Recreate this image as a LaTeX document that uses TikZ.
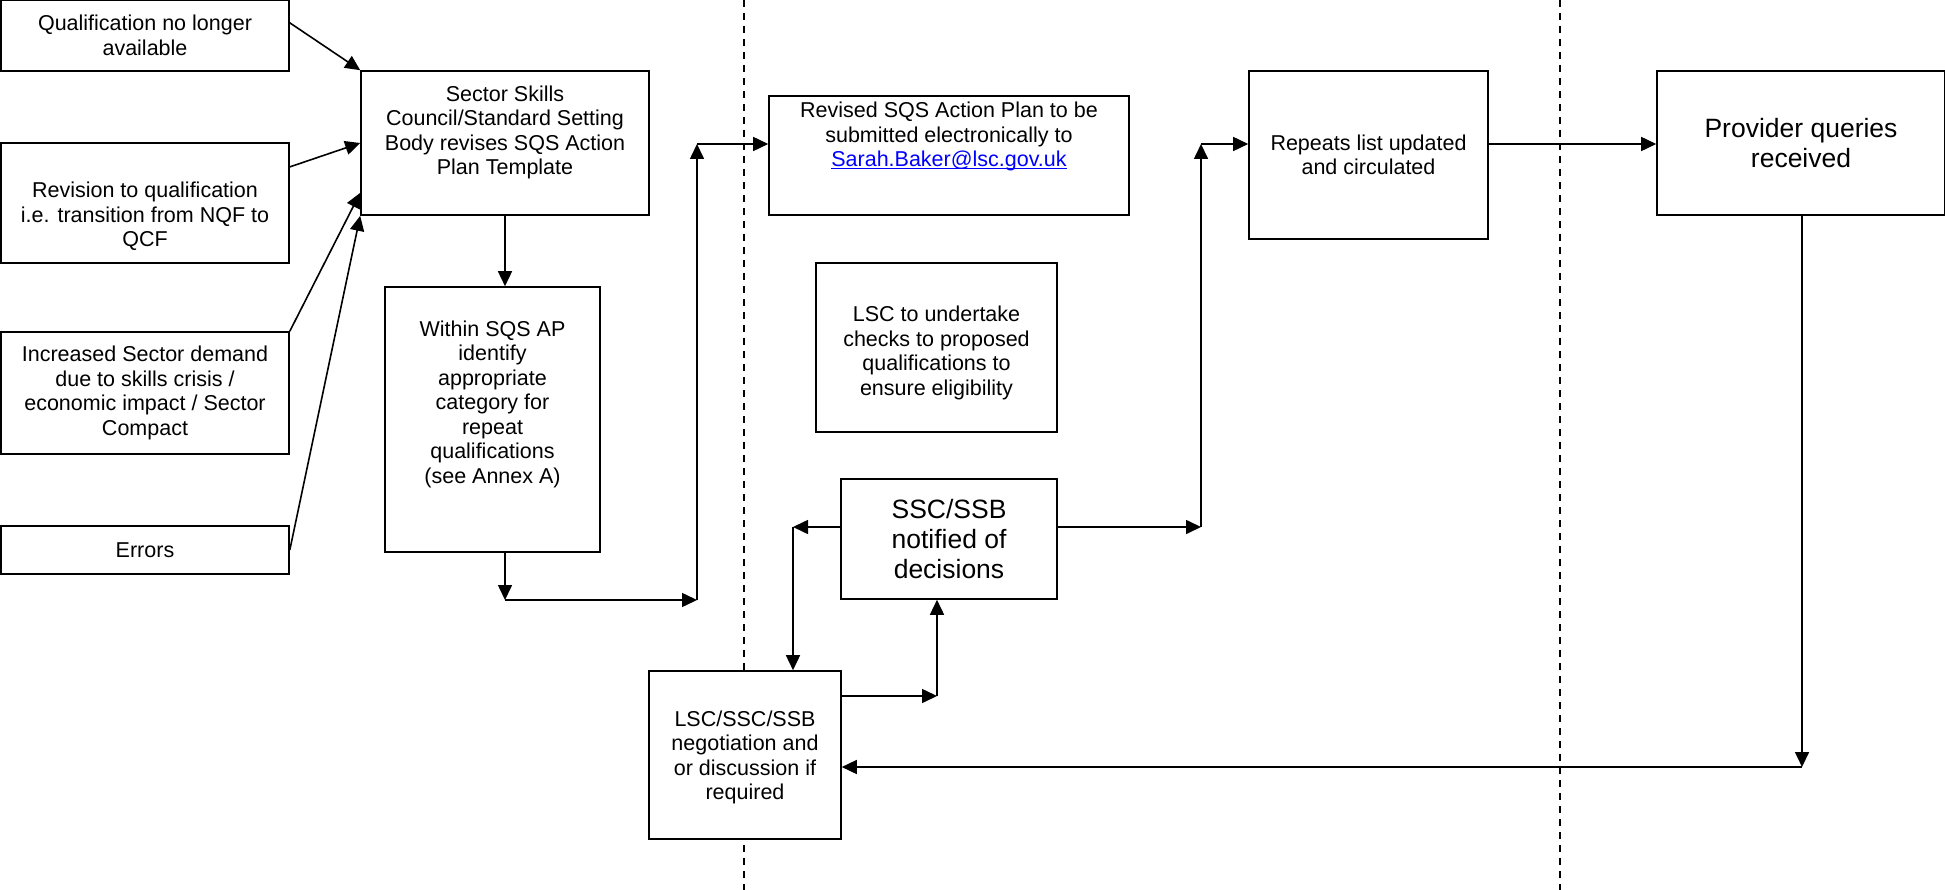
\documentclass[tikz,border=0pt]{standalone}
\usepackage{fontspec}
\setmainfont{Liberation Sans}
\usetikzlibrary{arrows.meta}

\newcommand\mailLink[1]{\textcolor{blue}{\setbox0\hbox{#1}\rlap{\rule[-2.5pt]{\wd0}{1.2pt}}#1}}

\begin{document}
\begin{tikzpicture}
[x=1pt,y=-1pt,%
  boxDecorate/.style={draw,line width=1.6pt,fill=white,inner sep=0pt,align=center,%
    font=\fontsize{21.5}{24.5}\selectfont},%
  bigDecorate/.style={boxDecorate,font=\fontsize{26.5}{30}\selectfont},%
  lineDecorate/.style={line width=1.6pt,-{Triangle[length=15pt,width=14pt]}},%
  laneDecorate/.style={line width=1.4pt,dash pattern=on 7pt off 6pt}]
\useasboundingbox (0,0) rectangle (1945,890);
%% lane separators
\draw[laneDecorate] (744,0) -- (744,890);
\draw[laneDecorate] (1560,0) -- (1560,890);
%% boxes
\foreach \nodename/\x/\y/\w/\h/\txt in {
  q1/145/35.5/288/71/{Qualification no longer\\available},
  revision/145/203/288/120/{\mbox{}\\[18pt]Revision to qualification\\i.e. transition from NQF to\\QCF},
  increased/145/393/288/122/{Increased Sector demand\\due to skills crisis /\\economic impact / Sector\\Compact},
  errors/145/550/288/48/{Errors},
  ssc/505/143/288/144/{Sector Skills\\Council/Standard Setting\\Body revises SQS Action\\Plan Template\\[1.5pt]\mbox{}},
  within/492.5/419.5/215/265/{Within SQS AP\\identify\\appropriate\\category for\\repeat\\qualifications\\(see Annex A)\\[10.5pt]\mbox{}},
  revised/949/155.5/360/119/{Revised SQS Action Plan to be\\submitted electronically to\\\mailLink{Sarah.Baker@lsc.gov.uk}\\[17.5pt]\mbox{}},
  checks/936.5/347.5/241/169/{\mbox{}\\[1.5pt]LSC to undertake\\checks to proposed\\qualifications to\\ensure eligibility},
  negotiation/745/755/192/168/{\mbox{}\\[-4pt]LSC/SSC/SSB\\negotiation and\\or discussion if\\required},
  repeats/1368.5/155/239/168/{Repeats list updated\\and circulated}}
{
  \node (\nodename) at (\x,\y) [boxDecorate,minimum width=\w pt,minimum height=\h pt] {\txt};
}
\node (notified) at (949,539) [bigDecorate,minimum width=216pt,minimum height=120pt] {SSC/SSB\\notified of\\decisions};
\node (provider) at (1801,143) [bigDecorate,minimum width=288pt,minimum height=144pt] {Provider queries\\received};
%% bends
\coordinate (c1) at (505,600);
\coordinate (c2) at (697,600);
\coordinate (c3) at (697,144);
\coordinate (c4) at (793,527);
\coordinate (c5) at (937,696);
\coordinate (c6) at (1201,527);
\coordinate (c7) at (1201,144);
\coordinate (c8) at (1802,767);
%% connectors
\foreach \startnode/\endnode in {q1.5/ssc.north west, revision.14/ssc.west,
  increased.north east/ssc.199, errors.east/ssc.south west,
  ssc.south/ssc.south |- within.north, ssc.south |- within.south/c1,
  c1/c2, c2/c3, c3/c3 -| revised.west,
  c4 -| notified.west/c4, c4/c4 |- negotiation.north,
  c5 -| negotiation.east/c5, c5/c5 |- notified.south,
  c6 -| notified.east/c6, c6/c7, c7/c7 -| repeats.west,
  c7 -| repeats.east/c7 -| provider.west,
  c8 |- provider.south/c8, c8/c8 -| negotiation.east}
{
  \draw[lineDecorate] (\startnode) -- (\endnode);
}
\end{tikzpicture}
\end{document}
